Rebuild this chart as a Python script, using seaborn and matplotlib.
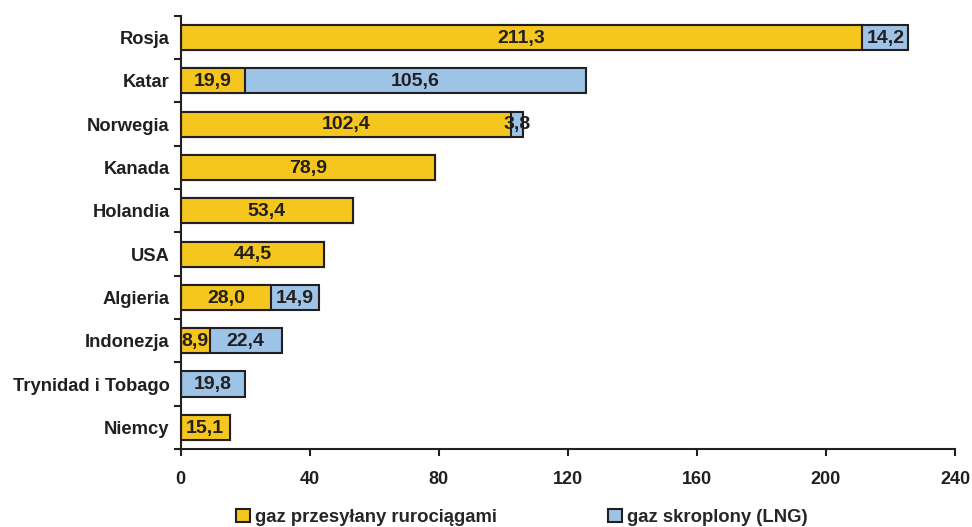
import numpy as np
import pandas as pd
import seaborn as sns
from matplotlib import pyplot as plt
from matplotlib.patches import Patch

countries = ["Rosja", "Katar", "Norwegia", "Kanada", "Holandia", "USA",
             "Algieria", "Indonezja", "Trynidad i Tobago", "Niemcy"]
pipeline = [211.3, 19.9, 102.4, 78.9, 53.4, 44.5, 28.0, 8.9, 0.0, 15.1]
lng = [14.2, 105.6, 3.8, 0.0, 0.0, 0.0, 14.9, 22.4, 19.8, 0.0]
series_names = ["gaz przesyłany rurociągami", "gaz skroplony (LNG)"]

yellow = "#F5C61E"
blue = "#9DC3E6"
edge = "#231F20"

df = pd.DataFrame({"kraj": countries, "rurociagi": pipeline, "lng": lng})
df["razem"] = df["rurociagi"] + df["lng"]

sns.set_style("white")
plt.rcParams["font.family"] = ["Liberation Sans", "DejaVu Sans"]
plt.rcParams["font.weight"] = "bold"

fig = plt.figure(figsize=(9.72, 5.27), dpi=100)
ax = fig.add_axes([0.186, 0.148, 0.7965, 0.822])

# total (blue) underneath, pipeline (yellow) on top -> stacked look
sns.barplot(data=df, y="kraj", x="razem", orient="h", color=blue, saturation=1,
            edgecolor=edge, linewidth=1.5, width=0.58, ax=ax)
sns.barplot(data=df, y="kraj", x="rurociagi", orient="h", color=yellow, saturation=1,
            edgecolor=edge, linewidth=1.5, width=0.58, ax=ax)

def fmt(v):
    return f"{v:.1f}".replace(".", ",")

for i, (p, l) in enumerate(zip(pipeline, lng)):
    if p > 0:
        ax.text(p / 2, i + 0.02, fmt(p), ha="center", va="center", fontsize=14,
                fontweight="bold", color="#231F20")
    if l > 0:
        ax.text(p + l / 2, i + 0.02, fmt(l), ha="center", va="center", fontsize=14,
                fontweight="bold", color="#231F20")

ax.set_xlim(0, 240)
ax.set_ylim(len(countries) - 0.5, -0.5)
ax.set_xticks(np.arange(0, 241, 40))
ax.set_xlabel("")
ax.set_ylabel("")

ax.set_yticks(np.arange(len(countries) + 1) - 0.5, minor=True)
ax.tick_params(axis="y", which="major", length=0, pad=8, labelsize=13.2, labelcolor="#231F20")
ax.tick_params(axis="y", which="minor", length=5, width=1.5, color=edge, direction="out", left=True)
ax.tick_params(axis="x", which="major", length=5, width=1.5, color=edge, direction="out",
               bottom=True, pad=11, labelsize=13, labelcolor="#231F20")
for lab in ax.get_xticklabels() + ax.get_yticklabels():
    lab.set_fontweight("bold")

sns.despine(ax=ax)
for s in ["left", "bottom"]:
    ax.spines[s].set_color(edge)
    ax.spines[s].set_linewidth(1.5)

handles = [Patch(facecolor=yellow, edgecolor=edge, linewidth=1.5),
           Patch(facecolor=blue, edgecolor=edge, linewidth=1.5)]
fig.legend(handles, series_names, loc="center", bbox_to_anchor=(0.537, 0.018),
           ncol=2, frameon=False, columnspacing=6.0, handlelength=0.75,
           handleheight=0.75, handletextpad=0.3, prop={"size": 13.3, "weight": "bold"})

fig.savefig("out.png", dpi=100)
